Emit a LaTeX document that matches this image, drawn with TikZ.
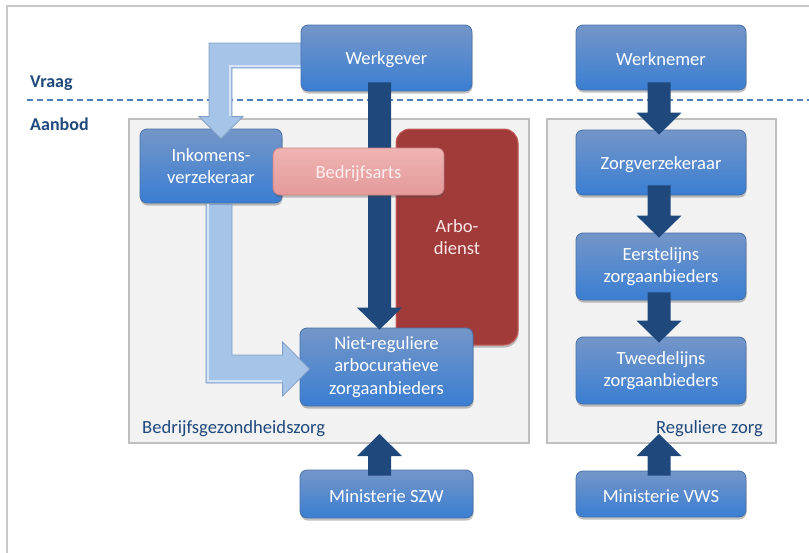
\documentclass[tikz,border=0pt]{standalone}
\usepackage{fontspec}
\setmainfont{Carlito}
\usetikzlibrary{calc,shadows}

\definecolor{navy}{RGB}{31,73,125}
\definecolor{labelblue}{RGB}{31,73,125}
\definecolor{dashblue}{RGB}{79,129,189}
\definecolor{framegray}{RGB}{200,200,200}
\definecolor{panelfill}{RGB}{242,242,242}
\definecolor{paneledge}{RGB}{191,191,191}
\definecolor{boxtop}{RGB}{116,150,200}
\definecolor{boxbot}{RGB}{58,126,210}
\definecolor{boxedge}{RGB}{72,112,170}
\definecolor{pinktop}{RGB}{238,180,179}
\definecolor{pinkbot}{RGB}{228,154,153}
\definecolor{pinkedge}{RGB}{205,130,130}
\definecolor{arbored}{RGB}{160,59,58}
\definecolor{arboedge}{RGB}{200,96,96}
\definecolor{lightarrow}{RGB}{166,195,232}
\definecolor{lightedge}{RGB}{128,158,200}
\definecolor{lighthi}{RGB}{214,230,248}

% vertical block arrow from #1 (start of shaft) to #2 (tip)
\newcommand\fatarrow[2]{%
  \coordinate (fa-b) at ($(#2)!22pt!(#1)$);
  \fill[navy] ($(#1)!11.5pt!90:(#2)$) -- ($(fa-b)!11.5pt!90:(#2)$)
    -- ($(fa-b)!22.5pt!90:(#2)$) -- (#2) -- ($(fa-b)!22.5pt!-90:(#2)$)
    -- ($(fa-b)!11.5pt!-90:(#2)$) -- ($(#1)!11.5pt!-90:(#2)$) -- cycle;}

\begin{document}
\begin{tikzpicture}[x=1pt,y=-1pt,
  txt/.style={font=\fontsize{18.6}{22.5}\selectfont},
  box/.style={txt, rounded corners=7pt, draw=boxedge, line width=0.8pt,
    top color=boxtop, bottom color=boxbot, text=white, align=center,
    inner sep=0pt, minimum width=170pt,
    execute at begin node={\rule{0pt}{17pt}},
    drop shadow={shadow xshift=0.5pt, shadow yshift=-2.5pt, opacity=0.35, fill=black!70}},
  pinkbox/.style={box, draw=pinkedge, top color=pinktop, bottom color=pinkbot,
    text={rgb,255:red,252;green,238;blue,238}},
  panel/.style={draw=paneledge, fill=panelfill, line width=2pt, inner sep=0pt},
  sidelabel/.style={font=\fontsize{18}{22}\selectfont\bfseries, text=labelblue, inner sep=0pt},
  panellabel/.style={txt, text=labelblue, inner sep=0pt},
  lightarrowstyle/.style={fill=lightarrow, draw=lightedge, line width=0.8pt, line join=miter},
  lighthighlight/.style={draw=lighthi, line width=1.6pt}
]
\useasboundingbox (0,0) rectangle (809,552);

% outer frame and the demand/supply divider
\draw[framegray, line width=2pt] (7,570) -- (7,6) -- (830,6);
\draw[dashblue, line width=1.2pt, dash pattern=on 6pt off 4pt] (27,100) -- (809,100);
\node[sidelabel, anchor=base west] (vraag) at (30,87) {Vraag};
\node[sidelabel, anchor=base west] (aanbod) at (30,130) {Aanbod};

% the two supply panels
\node[panel, minimum width=400pt, minimum height=324pt] (bgz) at (329,281) {};
\node[panel, minimum width=229pt, minimum height=324pt] (rz) at (661.5,281) {};
\node[panellabel, anchor=base west] (bgzlabel) at ($(bgz.south west)+(14,-11)$) {Bedrijfsgezondheidszorg};
\node[panellabel, anchor=base east] (rzlabel) at ($(rz.south east)+(-14,-11)$) {Reguliere zorg};

% occupational health service
\node[txt, rounded corners=14pt, draw=arboedge, line width=1pt, fill=arbored,
  text={rgb,255:red,250;green,230;blue,230}, align=center,
  minimum width=122pt, minimum height=216pt, inner sep=0pt,
  execute at begin node={\rule{0pt}{17pt}},
  drop shadow={shadow xshift=0.5pt, shadow yshift=-2.5pt, opacity=0.35, fill=black!70}]
  (arbo) at (457,237) {Arbo-\\dienst};

% left column
\node[box, minimum width=142pt, minimum height=74pt] (inkomens) at (211,166) {Inkomens-\\verzekeraar};
\node[box, minimum width=173pt, minimum height=78pt] (niet) at (386.5,367) {Niet-reguliere\\arbocuratieve\\zorgaanbieders};

% light arrow: employer -> income insurer
\coordinate (a1s) at (305,55.5);
\coordinate (a1t) at ($(inkomens.north)+(10,10)$);
\draw[lightarrowstyle] ($(a1s)+(0,-12.5)$) -- ($(a1t|-a1s)+(-12,-12.5)$)
  -- ($(a1t)+(-12,-22)$) -- ($(a1t)+(-22,-22)$) -- (a1t) -- ($(a1t)+(22,-22)$)
  -- ($(a1t)+(11,-22)$) -- ($(a1t|-a1s)+(11,12.5)$) -- ($(a1s)+(0,12.5)$) -- cycle;
\draw[lighthighlight] ($(a1s)+(0,10.5)$) -- ($(a1t|-a1s)+(9,10.5)$) -- ($(a1t)+(9,-23)$);

\node[box, minimum width=171pt, minimum height=66pt] (werkgever) at (386.5,58) {Werkgever};

% employer -> non-regular providers
\coordinate (wg1) at ($(werkgever.south)+(-7,-9)$);
\coordinate (wg2) at ($(niet.north)+(-7,2)$);
\fatarrow{wg1}{wg2}

\node[pinkbox, minimum width=171pt, minimum height=47pt] (arts) at (358.5,171.5) {Bedrijfsarts};

% light arrow: income insurer -> non-regular providers
\coordinate (a2s) at ($(inkomens.south)+(8,1)$);
\coordinate (a2t) at ($(niet.west)+(10,2)$);
\draw[lightarrowstyle] ($(a2s)+(-13,0)$) -- ($(a2s|-a2t)+(-13,14)$)
  -- ($(a2t)+(-27,14)$) -- ($(a2t)+(-27,27)$) -- (a2t) -- ($(a2t)+(-27,-27)$)
  -- ($(a2t)+(-27,-14)$) -- ($(a2s|-a2t)+(13,-14)$) -- ($(a2s)+(13,0)$) -- cycle;
\draw[lighthighlight] ($(a2s)+(-11,0)$) -- ($(a2s|-a2t)+(-11,12)$) -- ($(a2t)+(-28,12)$);

\node[box, minimum width=173pt, minimum height=48pt] (szw) at (386.5,494) {Ministerie SZW};
\coordinate (s1) at ($(szw.north)+(-7,6)$);
\coordinate (s2) at ($(szw.north |- bgz.south)+(-7,-10)$);
\fatarrow{s1}{s2}

% right column
\node[box, minimum height=65pt] (werknemer) at (661,57.5) {Werknemer};
\node[box, minimum height=65pt] (zorgv) at (661,162.5) {Zorgverzekeraar};
\node[box, minimum height=67pt] (eerste) at (661,266.5) {Eerstelijns\\zorgaanbieders};
\node[box, minimum height=67pt] (tweede) at (661,370.5) {Tweedelijns\\zorgaanbieders};
\node[box, minimum height=46pt] (vws) at (661,494) {Ministerie VWS};

\coordinate (wn1) at ($(werknemer.south)+(-2,-8)$);
\coordinate (wn2) at ($(zorgv.north)+(-2,5)$);
\fatarrow{wn1}{wn2}
\coordinate (zv1) at ($(zorgv.south)+(-2,-10)$);
\coordinate (zv2) at ($(eerste.north)+(-2,5)$);
\fatarrow{zv1}{zv2}
\coordinate (e1) at ($(eerste.south)+(-2,-8)$);
\coordinate (e2) at ($(tweede.north)+(-2,6)$);
\fatarrow{e1}{e2}
\coordinate (v1) at ($(vws.north)+(-2,5)$);
\coordinate (v2) at ($(vws.north |- rz.south)+(-2,-10)$);
\fatarrow{v1}{v2}
\end{tikzpicture}
\end{document}
